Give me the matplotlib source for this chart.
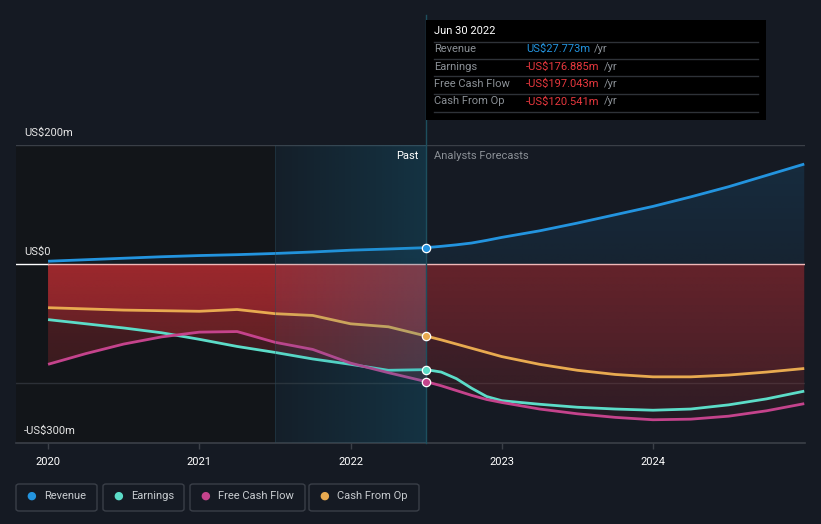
import numpy as np
import matplotlib.pyplot as plt
from matplotlib.patches import PathPatch, Rectangle, FancyBboxPatch
from matplotlib.path import Path
from matplotlib.colors import to_rgb

plt.rcParams["font.family"] = ["Roboto", "DejaVu Sans"]

# ---------------------------
# Data (US$m)
# ---------------------------
past_years = [2020.0, 2020.25, 2020.5, 2020.75, 2021.0, 2021.25, 2021.5, 2021.75, 2022.0, 2022.25, 2022.5]
revenue_past = [5, 7.5, 10, 12.5, 14.5, 16, 18, 20.5, 23.5, 25.5, 27.773]
earnings_past = [-93, -100, -107, -115, -126, -138, -148, -159, -168, -178, -176.885]
fcf_past = [-168, -150, -134, -122, -114, -113, -131, -143, -166, -182, -197.043]
cfo_past = [-73, -75, -77, -78, -79, -76, -83, -86, -100, -105, -120.541]

fc_years = [2022.5, 2022.6, 2022.7, 2022.8, 2022.9, 2023.0, 2023.25, 2023.5, 2023.75, 2024.0, 2024.25, 2024.5, 2024.75, 2025.0]
revenue_fc = [27.773, 30, 32.5, 35.5, 40, 45, 56, 69, 83, 97, 113, 130, 149, 168]
earnings_fc = [-176.885, -181, -192, -208, -222, -229, -235, -240, -243, -245, -243, -236, -226, -213]
fcf_fc = [-197.043, -204, -212, -220, -227, -232, -243, -251, -257, -261, -260, -255, -246, -234]
cfo_fc = [-120.541, -127, -134, -141, -148, -155, -168, -178, -185, -189, -189, -186, -181, -175]

series_names = ["Revenue", "Earnings", "Free Cash Flow", "Cash From Op"]
series_colors = ["#2394df", "#5cdcc8", "#c4438c", "#e8aa50"]
tooltip_values = ["US$27.773m", "-US$176.885m", "-US$197.043m", "-US$120.541m"]
year_ticks = [2020, 2021, 2022, 2023, 2024]
y_ticks = [200, 0, -300]
y_tick_labels = ["US$200m", "US$0", "-US$300m"]

BG = "#151a23"
W, H = 821, 524

fig = plt.figure(figsize=(W / 100, H / 100), dpi=100, facecolor=BG)
ax = fig.add_axes([16 / W, 1 - 443 / H, (805 - 16) / W, (443 - 145) / H])
ax.set_facecolor(BG)
XMIN, XMAX = 2019.788, 2025.005
YMIN, YMAX = -300, 200


def fig_x(px):
    return px / W


def fig_y(py):
    return 1 - py / H


def grad_fill(xs, ys, color, a_near, a_far, zorder):
    # vertical alpha gradient between 0 and the line, clipped to the area
    xs = np.asarray(xs, float)
    ys = np.asarray(ys, float)
    verts = list(zip(xs, ys)) + [(xs[-1], 0), (xs[0], 0), (xs[0], ys[0])]
    patch = PathPatch(Path(verts), facecolor="none", edgecolor="none", transform=ax.transData)
    ax.add_patch(patch)
    n = 256
    arr = np.zeros((n, 1, 4))
    arr[:, 0, :3] = to_rgb(color)
    if ys.min() < 0:
        arr[:, 0, 3] = np.linspace(a_far, a_near, n)
        ext = [xs.min(), xs.max(), YMIN, 0]
    else:
        arr[:, 0, 3] = np.linspace(a_near, a_far, n)
        ext = [xs.min(), xs.max(), 0, YMAX]
    im = ax.imshow(arr, extent=ext, origin="lower", aspect="auto", zorder=zorder, interpolation="bilinear")
    im.set_clip_path(patch)


# darker history band and "past" highlight
ax.axvspan(XMIN, 2021.5, color="#121519", zorder=0, lw=0)
past_grad = np.zeros((1, 256, 4))
past_grad[0, :, :3] = to_rgb("#1482a8")
past_grad[0, :, 3] = np.linspace(0.05, 0.24, 256)
ax.imshow(past_grad, extent=[2021.5, 2022.5, YMIN, YMAX], aspect="auto", zorder=4, interpolation="bilinear")
ax.axvline(2021.5, color="#2a4a58", lw=0.6, alpha=0.5, zorder=4)

# gridlines
ax.axhline(200, color="#3a3f47", lw=1, zorder=1)
ax.axhline(-200, color="#2c3037", lw=1, zorder=1)
ax.plot([XMIN, 2020.0], [0, 0], color="white", lw=1, zorder=3)
ax.plot([2020.0, XMAX], [0, 0], color="#f0b8b8", lw=1, zorder=3)

# area fills
grad_fill(past_years, revenue_past, series_colors[0], 0.06, 0.2, 1)
grad_fill(fc_years, revenue_fc, series_colors[0], 0.08, 0.16, 1)
for vals_p, vals_f in [(earnings_past, earnings_fc), (fcf_past, fcf_fc), (cfo_past, cfo_fc)]:
    grad_fill(past_years, vals_p, "#dc3238", 0.32, 0.12, 2)
    grad_fill(fc_years, vals_f, "#dc3238", 0.16, 0.06, 2)

# lines
all_past = [revenue_past, earnings_past, fcf_past, cfo_past]
all_fc = [revenue_fc, earnings_fc, fcf_fc, cfo_fc]
for vp, vf, c in zip(all_past, all_fc, series_colors):
    ax.plot(past_years, vp, color=c, lw=2, zorder=3, solid_capstyle="butt")
    ax.plot(fc_years, vf, color=c, lw=2, zorder=3, solid_capstyle="butt")
    ax.plot([past_years[-1]], [vp[-1]], "o", ms=6, color=c, mec="white", mew=0.9, zorder=6)

# "now" marker line, extends up to the tooltip
top_frac = (443 - 15) / (443 - 145)
ax.axvline(2022.5, ymin=0, ymax=top_frac, color="#1d4f5e", lw=1, zorder=5, clip_on=False)

ax.set_xlim(XMIN, XMAX)
ax.set_ylim(YMIN, YMAX)
for s in ["top", "right", "left"]:
    ax.spines[s].set_visible(False)
ax.spines["bottom"].set_color("#3b4048")
ax.spines["bottom"].set_linewidth(1.2)
ax.set_yticks([])
ax.set_xticks(year_ticks)
ax.set_xticklabels([str(y) for y in year_ticks])
ax.tick_params(axis="x", colors="#3b4048", length=4, width=1, labelcolor="white", labelsize=8, pad=6)

# y labels
for val, lab in zip(y_ticks, y_tick_labels):
    py = 264 - val * 0.595 - 12
    fig.text(fig_x(24), fig_y(py), lab, color="#e6e6e6", fontsize=8, va="center", ha="left")

fig.text(fig_x(418), fig_y(156), "Past", color="white", fontsize=8, ha="right", va="center")
fig.text(fig_x(434), fig_y(156), "Analysts Forecasts", color="#8b9096", fontsize=8, ha="left", va="center")

# tooltip
fig.patches.append(Rectangle((fig_x(426), fig_y(120)), (766 - 426) / W, 100 / H,
                             transform=fig.transFigure, facecolor="black", edgecolor="none", zorder=10))
fig.text(fig_x(434), fig_y(31), "Jun 30 2022", color="white", fontsize=8, va="center", zorder=11)
for py in [41.5, 58.5, 76, 93.5, 111.5]:
    fig.add_artist(plt.Line2D([fig_x(434), fig_x(758)], [fig_y(py), fig_y(py)], color="#2e3238", lw=1,
                              transform=fig.transFigure, zorder=11))
row_y = [49, 66.5, 84, 101.5]
value_texts = []
for i, name in enumerate(series_names):
    fig.text(fig_x(434), fig_y(row_y[i]), name, color="#8b9096", fontsize=8, va="center", zorder=11)
    vcol = "#2394df" if i == 0 else "#e8383e"
    vt = fig.text(fig_x(526), fig_y(row_y[i]), tooltip_values[i], color=vcol, fontsize=8, va="center", zorder=11)
    value_texts.append(vt)

# place "/yr" right after each value, using the rendered text width
fig.canvas.draw()
renderer = fig.canvas.get_renderer()
for i, vt in enumerate(value_texts):
    bb = vt.get_window_extent(renderer)
    fig.text((bb.x1 + 4) / W, fig_y(row_y[i]), "/yr", color="#8b9096", fontsize=8, va="center", zorder=11)

# legend
box_x = [(16, 97), (103, 184), (190, 305), (309, 419)]
for (x0, x1), name, c in zip(box_x, series_names, series_colors):
    fig.patches.append(FancyBboxPatch((fig_x(x0), fig_y(511)), (x1 - x0) / W, 27 / H,
                                      boxstyle="round,pad=0,rounding_size=0.004",
                                      transform=fig.transFigure, facecolor="none",
                                      edgecolor="#3a3f48", lw=1))
    fig.text(fig_x(x0 + 15), fig_y(496), "\u25cf", color=c, fontsize=8, ha="center", va="center",
             family="DejaVu Sans")
    fig.text(fig_x(x0 + 28), fig_y(496), name, color="#c8ccd0", fontsize=8, ha="left", va="center")

fig.savefig("out.png", dpi=100, facecolor=BG)
